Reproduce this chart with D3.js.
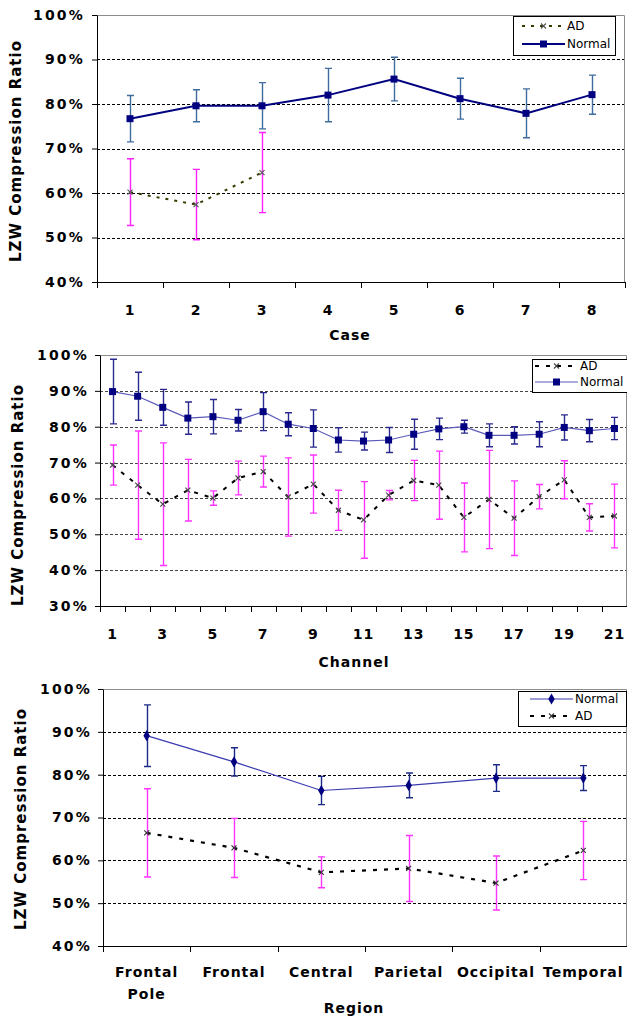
<!DOCTYPE html>
<html lang="en">
<head>
<meta charset="UTF-8">
<title>LZW Compression Ratio</title>
<script src="https://d3js.org/d3.v7.min.js"></script>
<style>
  body { margin: 0; background: #fff; }
  svg { display: block; }
  text { font-family: "DejaVu Sans", Verdana, sans-serif; fill: #000; }
  .lbl { font-size: 14px; font-weight: bold; letter-spacing: 1px; }
  .ylbl { font-size: 14px; font-weight: bold; letter-spacing: 2.2px; }
  .ytitle { font-size: 15px; font-weight: bold; letter-spacing: 1px; }
  .legend text { font-size: 12px; }
</style>
</head>
<body>
<script>
// panel 1: per case
const cases = ["1", "2", "3", "4", "5", "6", "7", "8"];
const caseNormal = [76.7, 79.6, 79.6, 82.0, 85.6, 81.2, 77.9, 82.1];
const caseNormalErr = [5.2, 3.6, 5.2, 6.0, 4.9, 4.6, 5.5, 4.4];
const caseAD = [60.2, 57.4, 64.6];
const caseADErr = [7.5, 7.9, 9.0];

// panel 2: per channel
const channels = ["1", "2", "3", "4", "5", "6", "7", "8", "9", "10", "11",
                  "12", "13", "14", "15", "16", "17", "18", "19", "20", "21"];
const chNormal = [89.8, 88.5, 85.4, 82.4, 82.8, 81.8, 84.2, 80.7, 79.5, 76.3, 76.0,
                  76.3, 77.9, 79.4, 80.0, 77.6, 77.6, 77.9, 79.8, 78.9, 79.5];
const chNormalErr = [9.0, 6.7, 5.0, 4.5, 4.8, 3.0, 5.3, 3.2, 5.2, 3.4, 2.5,
                     3.5, 4.2, 3.0, 1.8, 3.2, 2.4, 3.5, 3.5, 3.1, 3.1];
const chAD = [69.3, 63.7, 58.4, 62.3, 60.1, 65.7, 67.5, 60.4, 64.0, 56.7, 54.0,
              60.9, 65.0, 63.7, 54.7, 59.7, 54.5, 60.5, 65.2, 54.7, 55.1];
const chADErr = [5.6, 15.1, 17.1, 8.6, 2.0, 4.7, 4.3, 10.9, 8.1, 5.6, 10.7,
                 1.3, 5.6, 9.5, 9.6, 13.7, 10.4, 3.4, 5.3, 3.8, 8.9];

// panel 3: per region
const regions = ["Frontal Pole", "Frontal", "Central", "Parietal", "Occipital", "Temporal"];
const regNormal = [89.1, 83.0, 76.3, 77.5, 79.2, 79.2];
const regNormalErr = [7.2, 3.3, 3.3, 2.9, 3.1, 2.9];
const regAD = [66.4, 62.9, 57.2, 58.1, 54.7, 62.3];
const regADErr = [10.3, 6.9, 3.6, 7.7, 6.3, 6.8];

const yTitle = "LZW Compression Ratio";

const svg = d3.select("body").append("svg")
    .attr("width", 627)
    .attr("height", 1021);

function addMarker(sel, type, color) {
    if (type === "square") {
        sel.append("rect").attr("x", -3.5).attr("y", -3.5)
            .attr("width", 7).attr("height", 7).attr("fill", color);
    } else if (type === "diamond") {
        sel.append("path").attr("d", d3.symbol(d3.symbolDiamond, 36)()).attr("fill", color);
    } else {
        sel.append("path").attr("d", "M-2.5,-2.5L2.5,2.5M-2.5,2.5L2.5,-2.5")
            .attr("stroke", color).attr("stroke-width", 1.1).attr("fill", "none");
    }
}

function drawPanel(cfg) {
    const g = svg.append("g");
    const x = d3.scaleBand().domain(cfg.cats).range([cfg.left, cfg.right]);
    const y = d3.scaleLinear().domain(cfg.yDomain).range([cfg.bottom, cfg.top]);
    const edge = d3.scaleLinear().domain([0, cfg.cats.length]).range([cfg.left, cfg.right]);
    const yTicks = d3.range(cfg.yDomain[0], cfg.yDomain[1] + 1, 10);
    const cx = d => x(d.c) + x.bandwidth() / 2;

    // dashed gridlines
    g.selectAll(".grid").data(yTicks.slice(1, -1)).join("line")
        .attr("x1", cfg.left).attr("x2", cfg.right)
        .attr("y1", d => Math.round(y(d)) + 0.5).attr("y2", d => Math.round(y(d)) + 0.5)
        .attr("stroke", cfg.gridColor).attr("stroke-dasharray", "3,2");

    // grey frame on top and right
    g.append("path")
        .attr("d", `M${cfg.left},${cfg.top + 0.5}H${cfg.right - 0.5}V${cfg.bottom}`)
        .attr("fill", "none").attr("stroke", "#8c8c8c");

    // y axis
    const ya = g.append("g").attr("transform", `translate(${cfg.left},0)`)
        .call(d3.axisLeft(y).tickValues(yTicks).tickFormat(d => d + "%")
            .tickSize(5).tickPadding(cfg.yPad).tickSizeOuter(0));
    ya.selectAll("text").attr("class", "ylbl");

    // x axis line and boundary ticks
    g.append("line").attr("x1", cfg.left).attr("x2", cfg.right)
        .attr("y1", cfg.bottom + 0.5).attr("y2", cfg.bottom + 0.5).attr("stroke", "#000");
    g.selectAll(".xtick").data(d3.range(cfg.cats.length + 1)).join("line")
        .attr("x1", i => Math.round(edge(i)) + 0.5).attr("x2", i => Math.round(edge(i)) + 0.5)
        .attr("y1", cfg.bottom).attr("y2", cfg.bottom + 6).attr("stroke", "#000");

    // category labels
    g.selectAll(".xlabel").data(cfg.cats.filter((d, i) => cfg.showLabel(i))).join("text")
        .attr("class", "lbl").attr("text-anchor", "middle")
        .attr("y", cfg.labelY)
        .each(function (d) {
            const t = d3.select(this);
            d.split(" ").forEach((w, i) => {
                t.append("tspan").attr("x", x(d) + x.bandwidth() / 2)
                    .attr("dy", i ? 21.5 : 0).text(w);
            });
        });

    // axis titles
    g.append("text").attr("class", "lbl").attr("text-anchor", "middle")
        .attr("x", cfg.xTitle[1]).attr("y", cfg.xTitle[2]).text(cfg.xTitle[0]);
    g.append("text").attr("class", "ytitle").attr("text-anchor", "middle")
        .attr("transform", `translate(${cfg.yTitleX},${cfg.yTitleY}) rotate(-90)`)
        .text(yTitle);

    // series
    cfg.series.forEach(s => {
        const pts = s.values.map((v, i) => ({ c: cfg.cats[i], v: v, e: s.errs[i] }));
        g.append("path").datum(pts)
            .attr("d", d3.line().x(cx).y(d => y(d.v)))
            .attr("fill", "none").attr("stroke", s.color)
            .attr("stroke-width", s.width).attr("stroke-dasharray", s.dash);
        g.append("g").selectAll("path").data(pts).join("path")
            .attr("d", d => {
                const px = Math.round(cx(d)) + 0.5, t = y(d.v + d.e), b = y(d.v - d.e);
                return `M${px},${t}V${b}M${px - 3.5},${t}h7M${px - 3.5},${b}h7`;
            })
            .attr("fill", "none").attr("stroke", s.errColor).attr("stroke-width", 1.4);
        g.append("g").selectAll("g").data(pts).join("g")
            .attr("transform", d => `translate(${cx(d)},${y(d.v)})`)
            .each(function () { addMarker(d3.select(this), s.marker, s.markerColor); });
    });

    // legend
    const L = cfg.legend;
    const lg = g.append("g").attr("class", "legend");
    lg.append("rect").attr("x", L.x + 0.5).attr("y", L.y + 0.5)
        .attr("width", L.w).attr("height", L.h)
        .attr("fill", "#fff").attr("stroke", "#000");
    L.order.forEach((name, i) => {
        const s = cfg.series.find(d => d.name === name);
        const yy = L.rows[i];
        lg.append("line").attr("x1", L.s0).attr("x2", L.s1).attr("y1", yy).attr("y2", yy)
            .attr("stroke", s.color).attr("stroke-width", s.width).attr("stroke-dasharray", s.dash);
        addMarker(lg.append("g").attr("transform", `translate(${(L.s0 + L.s1) / 2},${yy})`),
            s.marker, s.markerColor);
        lg.append("text").attr("x", L.tx).attr("y", yy).attr("dy", "0.36em").text(name);
    });
}

drawPanel({
    cats: cases, yDomain: [40, 100],
    left: 97, right: 625, top: 15, bottom: 282,
    yPad: 7, gridColor: "#000", labelY: 315, showLabel: () => true,
    xTitle: ["Case", 350, 340], yTitleX: 21, yTitleY: 151,
    series: [
        { name: "AD", values: caseAD, errs: caseADErr, color: "#3a3a00", width: 2,
          dash: "3,6", errColor: "#ff22ff", marker: "x", markerColor: "#555" },
        { name: "Normal", values: caseNormal, errs: caseNormalErr, color: "#000080", width: 2,
          dash: null, errColor: "#3f6c9d", marker: "square", markerColor: "#000080" }
    ],
    legend: { x: 513, y: 16, w: 102, h: 39, rows: [26, 44], s0: 522, s1: 565, tx: 567,
              order: ["AD", "Normal"] }
});

drawPanel({
    cats: channels, yDomain: [30, 100],
    left: 100, right: 627, top: 355, bottom: 606,
    yPad: 6, gridColor: "#444", labelY: 639, showLabel: i => i % 2 === 0,
    xTitle: ["Channel", 354, 667], yTitleX: 23, yTitleY: 495,
    series: [
        { name: "AD", values: chAD, errs: chADErr, color: "#000", width: 2,
          dash: "4,7", errColor: "#ff33ff", marker: "x", markerColor: "#444" },
        { name: "Normal", values: chNormal, errs: chNormalErr, color: "#5a5ab8", width: 1.2,
          dash: null, errColor: "#2a2a90", marker: "square", markerColor: "#000080" }
    ],
    legend: { x: 532, y: 359, w: 95, h: 33, rows: [366, 382], s0: 535, s1: 578, tx: 580,
              order: ["AD", "Normal"] }
});

drawPanel({
    cats: regions, yDomain: [40, 100],
    left: 103, right: 627, top: 689, bottom: 946,
    yPad: 6, gridColor: "#000", labelY: 977, showLabel: () => true,
    xTitle: ["Region", 354, 1013], yTitleX: 26, yTitleY: 819,
    series: [
        { name: "Normal", values: regNormal, errs: regNormalErr, color: "#3b3bb0", width: 1.2,
          dash: null, errColor: "#1c2a88", marker: "diamond", markerColor: "#000080" },
        { name: "AD", values: regAD, errs: regADErr, color: "#000", width: 2.2,
          dash: "4,7", errColor: "#ff33ff", marker: "x", markerColor: "#333" }
    ],
    legend: { x: 518, y: 691, w: 108, h: 35, rows: [699, 716], s0: 530, s1: 573, tx: 575,
              order: ["Normal", "AD"] }
});
</script>
</body>
</html>
